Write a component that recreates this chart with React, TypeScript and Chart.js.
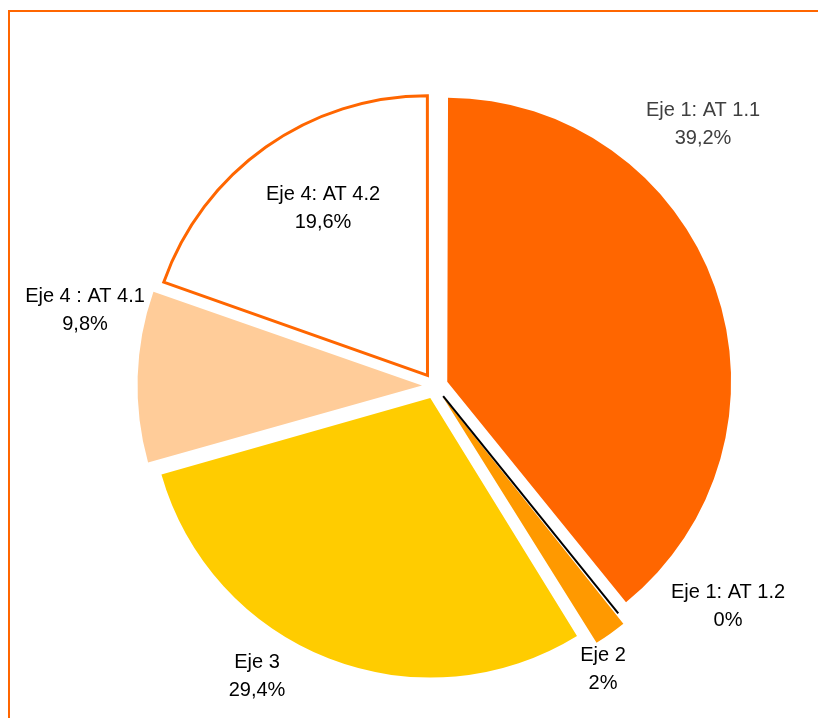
import { useEffect, useRef } from "react";
import { Chart, registerables } from "chart.js";

Chart.register(...registerables);

// ---- data ----
const categories = [
  "Eje 1: AT 1.1",
  "Eje 1: AT 1.2",
  "Eje 2",
  "Eje 3",
  "Eje 4 : AT 4.1",
  "Eje 4: AT 4.2",
];
const values = [39.2, 0, 2, 29.4, 9.8, 19.6];

// ---- styles ----
const fillColors = ["#FF6600", "#FFFFFF", "#FF9900", "#FFCC00", "#FFCC99", "#FFFFFF"];
const borderColors = ["#FF6600", "#000000", "#FF9900", "#FFCC00", "#FFCC99", "#FF6600"];
const borderWidths = [0, 2, 0, 0, 0, 3];
const labelColors = ["#404040", "#000000", "#000000", "#000000", "#000000", "#000000"];
// label anchor offsets from the pie centre, in pixels (layout only)
const labelOffsets: [number, number][] = [
  [268, -262],
  [293, 220],
  [168, 283],
  [-178, 290],
  [-350, -76],
  [-112, -178],
];
const EXPLODE = 52; // Chart.js arc offset option (translation = offset / 4)
const RADIUS = 279;
const FONT = '20px "Liberation Sans", Arial, sans-serif';

const fmtPct = (v: number) => String(v).replace(".", ",") + "%";

const zeroSlicePlugin = {
  id: "zeroSlice",
  afterDatasetsDraw(chart: any) {
    const meta = chart.getDatasetMeta(0);
    const ctx = chart.ctx;
    meta.data.forEach((el: any, i: number) => {
      if (values[i] !== 0) return;
      const a = el.startAngle;
      const t = (el.options.offset || 0) / 4;
      const cx = el.x + Math.cos(a) * t;
      const cy = el.y + Math.sin(a) * t;
      ctx.save();
      ctx.strokeStyle = borderColors[i];
      ctx.lineWidth = borderWidths[i];
      ctx.beginPath();
      ctx.moveTo(cx, cy);
      ctx.lineTo(cx + Math.cos(a) * el.outerRadius, cy + Math.sin(a) * el.outerRadius);
      ctx.stroke();
      ctx.restore();
    });
  },
};

const labelPlugin = {
  id: "sliceLabels",
  afterDatasetsDraw(chart: any) {
    const meta = chart.getDatasetMeta(0);
    const ctx = chart.ctx;
    const el0 = meta.data[0];
    const cx = el0.x;
    const cy = el0.y;
    ctx.save();
    ctx.font = FONT;
    ctx.textAlign = "center";
    ctx.textBaseline = "middle";
    categories.forEach((name, i) => {
      const [dx, dy] = labelOffsets[i];
      ctx.fillStyle = labelColors[i];
      ctx.fillText(name, cx + dx, cy + dy - 14);
      ctx.fillText(fmtPct(values[i]), cx + dx, cy + dy + 14);
    });
    ctx.restore();
  },
};

export default function App() {
  const ref = useRef<HTMLCanvasElement>(null);
  useEffect(() => {
    if (!ref.current) return;
    const chart = new Chart(ref.current, {
      type: "pie",
      data: {
        labels: categories,
        datasets: [
          {
            data: values,
            backgroundColor: fillColors,
            borderColor: borderColors,
            borderWidth: borderWidths,
            borderJoinStyle: "miter",
            offset: EXPLODE,
            hoverOffset: 0,
          } as any,
        ],
      },
      options: {
        animation: false,
        responsive: false,
        radius: RADIUS,
        layout: { padding: { left: 52, top: 54, right: 0, bottom: 0 } },
        plugins: {
          legend: { display: false },
          title: { display: false },
          tooltip: { enabled: false },
        },
        events: [],
      } as any,
      plugins: [zeroSlicePlugin, labelPlugin],
    });
    return () => chart.destroy();
  }, []);

  return (
    <div style={{ position: "fixed", left: 0, top: 0, width: 818, height: 718, background: "#fff", overflow: "hidden" }}>
      <div
        style={{
          position: "absolute",
          left: 8,
          top: 10,
          width: 860,
          height: 760,
          border: "2px solid #FF6600",
          boxSizing: "border-box",
        }}
      />
      <canvas ref={ref} width={818} height={718} style={{ position: "absolute", left: 0, top: 0, display: "block" }} />
    </div>
  );
}
